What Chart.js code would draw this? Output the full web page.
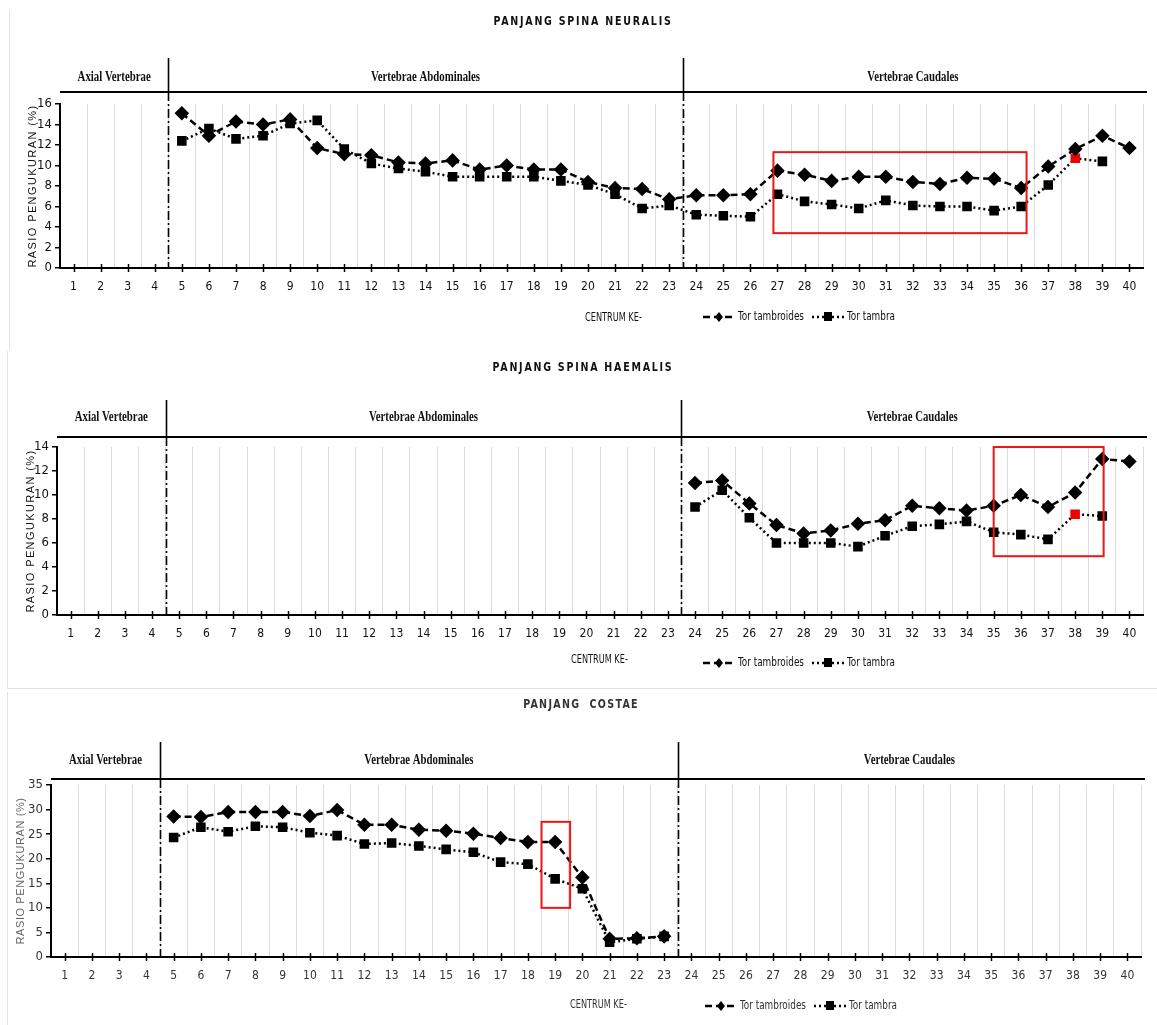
<!DOCTYPE html>
<html>
<head>
<meta charset="utf-8">
<script src="https://cdn.jsdelivr.net/npm/chart.js@4.4.0/dist/chart.umd.min.js"></script>
<style>
  body { margin: 0; background: #fff; }
  #page { position: relative; width: 1157px; height: 1025px; overflow: hidden; }
  .panel { position: absolute; left: 0; width: 1157px; }
  .edge { position: absolute; background: #e3e3e3; }
</style>
</head>
<body>
<div id="page">
  <div class="panel" style="top:0;height:345px"><canvas id="neural" width="1157" height="345"></canvas></div>
  <div class="panel" style="top:345px;height:343px"><canvas id="haemal" width="1157" height="343"></canvas></div>
  <div class="panel" style="top:688px;height:337px"><canvas id="costae" width="1157" height="337"></canvas></div>
  <div class="edge" style="left:9px;top:10px;width:1px;height:340px"></div>
  <div class="edge" style="left:7px;top:351px;width:1px;height:338px"></div>
  <div class="edge" style="left:7px;top:688px;width:1150px;height:1px"></div>
  <div class="edge" style="left:7px;top:692px;width:1px;height:333px"></div>
</div>
<script>
// centrum number along the spine
const centrum = ['1','2','3','4','5','6','7','8','9','10','11','12','13','14','15','16','17','18','19','20',
  '21','22','23','24','25','26','27','28','29','30','31','32','33','34','35','36','37','38','39','40'];

const sections = ['Axial Vertebrae', 'Vertebrae Abdominales', 'Vertebrae Caudales'];

// panjang spina neuralis (%)
const neuralTambroides = [null,null,null,null,15.1,12.9,14.3,14.0,14.5,11.7,11.1,11.0,10.3,10.2,10.5,9.6,10.0,9.6,9.6,8.4,
  7.8,7.7,6.7,7.1,7.1,7.2,9.5,9.1,8.5,8.9,8.9,8.4,8.2,8.8,8.7,7.8,9.9,11.6,12.9,11.7];
const neuralTambra = [null,null,null,null,12.4,13.6,12.6,12.9,14.1,14.4,11.6,10.2,9.7,9.4,8.9,8.9,8.9,8.9,8.5,8.1,
  7.2,5.8,6.1,5.2,5.1,5.0,7.2,6.5,6.2,5.8,6.6,6.1,6.0,6.0,5.6,6.0,8.1,10.7,10.4,null];

// panjang spina haemalis (%)
const haemalTambroides = [null,null,null,null,null,null,null,null,null,null,null,null,null,null,null,null,null,null,null,null,
  null,null,null,11.0,11.2,9.3,7.5,6.8,7.05,7.6,7.9,9.1,8.9,8.7,9.1,10.0,9.0,10.2,13.0,12.8];
const haemalTambra = [null,null,null,null,null,null,null,null,null,null,null,null,null,null,null,null,null,null,null,null,
  null,null,null,9.0,10.4,8.1,6.0,6.0,6.0,5.7,6.6,7.4,7.55,7.8,6.9,6.7,6.3,8.4,8.25,null];

// panjang costae (%)
const costaeTambroides = [null,null,null,null,28.6,28.5,29.5,29.5,29.5,28.7,29.9,26.9,26.9,25.9,25.7,25.1,24.2,23.4,23.4,16.2,
  3.7,3.8,4.2,null,null,null,null,null,null,null,null,null,null,null,null,null,null,null,null,null];
const costaeTambra = [null,null,null,null,24.3,26.4,25.5,26.6,26.4,25.3,24.7,23.0,23.2,22.6,21.9,21.3,19.3,18.9,15.9,13.9,
  3.0,3.7,4.2,null,null,null,null,null,null,null,null,null,null,null,null,null,null,null,null,null];

const yTicksNeural = [0, 16, 2];
const yTicksHaemal = [0, 14, 2];
const yTicksCostae = [0, 35, 5];

const NARROW = '"Liberation Sans Narrow", "DejaVu Sans Condensed", "Liberation Sans", sans-serif';

const markers = (data, redAt) => data.map((v, i) => i === redAt ? '#f00000' : '#000');

// text squeezed sideways, the picture uses a narrow face
function squeezed(ctx, text, x, y, sx, font, align) {
  ctx.save();
  ctx.translate(x, y);
  ctx.scale(sx, 1);
  ctx.font = font;
  ctx.textAlign = align;
  ctx.fillText(text, 0, 0);
  ctx.restore();
}

// draws title, section header, dividers, red box, x tick marks, axis titles and legend
const deco = {
  id: 'deco',
  afterDraw(chart, args, o) {
    const ctx = chart.ctx, xs = chart.scales.x, ys = chart.scales.y, a = chart.chartArea;
    ctx.save();
    ctx.textBaseline = 'middle';

    // title
    ctx.fillStyle = o.ink;
    ctx.letterSpacing = o.titleSpacing + 'px';
    squeezed(ctx, o.title, o.titleX, o.titleY, 0.88, 'bold 12px ' + NARROW, 'center');
    ctx.letterSpacing = '0px';

    // header band
    ctx.strokeStyle = '#000';
    ctx.lineWidth = 2;
    ctx.beginPath();
    ctx.moveTo(a.left, o.headerLine);
    ctx.lineTo(a.right + 4, o.headerLine);
    ctx.stroke();

    const cuts = [-0.5, 3.5, 22.5, 39.5];
    ctx.fillStyle = '#111';
    sections.forEach((s, i) => {
      const cx = (xs.getPixelForValue(cuts[i]) + xs.getPixelForValue(cuts[i + 1])) / 2;
      squeezed(ctx, s, cx, o.headerText, 0.72, 'bold 15px "Liberation Serif", "DejaVu Serif", serif', 'center');
    });

    [3.5, 22.5].forEach(c => {
      const px = Math.round(xs.getPixelForValue(c)) + 0.5;
      ctx.lineWidth = 1.6;
      ctx.setLineDash([]);
      ctx.beginPath();
      ctx.moveTo(px, o.dividerTop);
      ctx.lineTo(px, o.headerLine);
      ctx.stroke();
      ctx.setLineDash([9, 3, 2, 3]);
      ctx.beginPath();
      ctx.moveTo(px, o.headerLine);
      ctx.lineTo(px, a.bottom);
      ctx.stroke();
    });
    ctx.setLineDash([]);

    // x tick marks at each centrum
    ctx.lineWidth = 1.5;
    ctx.strokeStyle = '#000';
    centrum.forEach((c, i) => {
      const px = Math.round(xs.getPixelForValue(i)) + 0.5;
      ctx.beginPath();
      ctx.moveTo(px, a.bottom - 4);
      ctx.lineTo(px, a.bottom + 4);
      ctx.stroke();
    });

    // red highlight box
    const b = o.box;
    ctx.strokeStyle = '#e81818';
    ctx.lineWidth = 2;
    const bx1 = xs.getPixelForValue(b[0] - 1), bx2 = xs.getPixelForValue(b[1] - 1);
    const by1 = ys.getPixelForValue(b[3]), by2 = ys.getPixelForValue(b[2]);
    ctx.strokeRect(bx1, by1, bx2 - bx1, by2 - by1);

    // y axis title
    ctx.save();
    ctx.translate(o.yTitleX, (a.top + a.bottom) / 2);
    ctx.rotate(-Math.PI / 2);
    ctx.font = '11px "Liberation Sans", Arial, sans-serif';
    ctx.textAlign = 'center';
    ctx.letterSpacing = o.yTitleSpacing + 'px';
    ctx.fillStyle = o.yTitleColor;
    ctx.fillText('RASIO PENGUKURAN (%)', 0, 0);
    ctx.restore();

    // x axis title
    ctx.fillStyle = o.ink;
    squeezed(ctx, 'CENTRUM KE-', o.xTitle[0], o.xTitle[1], 0.7, '13px ' + NARROW, 'left');

    // legend
    chart.data.datasets.forEach((d, i) => {
      const [lx, ly] = o.legend[i];
      ctx.strokeStyle = '#000';
      ctx.lineWidth = 2.5;
      ctx.setLineDash(d.borderDash);
      ctx.beginPath();
      ctx.moveTo(lx, ly);
      ctx.lineTo(lx + 32, ly);
      ctx.stroke();
      ctx.setLineDash([]);
      ctx.fillStyle = '#000';
      const mx = lx + 16;
      if (d.pointStyle === 'rectRot') {
        ctx.beginPath();
        ctx.moveTo(mx, ly - 5); ctx.lineTo(mx + 4, ly); ctx.lineTo(mx, ly + 5); ctx.lineTo(mx - 4, ly);
        ctx.closePath();
        ctx.fill();
      } else {
        ctx.fillRect(mx - 4, ly - 5, 8, 9);
      }
      ctx.fillStyle = o.ink;
      squeezed(ctx, d.label, lx + 35, ly, 0.76, '13px ' + NARROW, 'left');
    });

    ctx.restore();
  }
};

function spineChart(id, area, yTicks, tambroides, tambra, redAt, extra) {
  const el = document.getElementById(id);
  const W = el.width, H = el.height;
  const yW = 34, xH = 30;
  return new Chart(el, {
    type: 'line',
    data: {
      labels: centrum,
      datasets: [
        {
          label: 'Tor tambroides',
          data: tambroides,
          borderColor: '#000',
          borderWidth: 2.5,
          borderDash: [7, 4],
          pointStyle: 'rectRot',
          pointRadius: 5.5,
          pointBackgroundColor: '#000',
          pointBorderColor: '#000',
          tension: 0
        },
        {
          label: 'Tor tambra',
          data: tambra,
          borderColor: '#000',
          borderWidth: 2.5,
          borderDash: [2, 3],
          pointStyle: 'rect',
          pointRadius: 5,
          pointBackgroundColor: markers(tambra, redAt),
          pointBorderColor: markers(tambra, redAt),
          tension: 0
        }
      ]
    },
    options: {
      responsive: false,
      animation: false,
      layout: {
        padding: { left: area.left - yW, right: W - area.right, top: area.top, bottom: H - area.bottom - xH }
      },
      plugins: {
        legend: { display: false },
        tooltip: { enabled: false },
        deco: extra
      },
      scales: {
        x: {
          offset: true,
          afterFit: s => { s.height = xH; },
          grid: { offset: true, drawTicks: false, color: '#dcdcdc', lineWidth: 1 },
          border: { display: true, color: '#000', width: 2 },
          ticks: { autoSkip: false, maxRotation: 0, padding: 12, color: extra.ink, font: { family: NARROW, size: 12 } }
        },
        y: {
          min: yTicks[0],
          max: yTicks[1],
          afterFit: s => { s.width = yW; },
          grid: { drawOnChartArea: false, drawTicks: true, tickLength: 5, color: '#000', lineWidth: 1.5 },
          border: { display: true, color: '#000', width: 2 },
          ticks: { stepSize: yTicks[2], padding: 3, color: extra.ink, font: { family: NARROW, size: 13 } }
        }
      }
    },
    plugins: [deco]
  });
}

spineChart('neural', { left: 60, right: 1143, top: 104, bottom: 268 }, yTicksNeural, neuralTambroides, neuralTambra, 37, {
  ink: '#111', title: 'PANJANG SPINA NEURALIS', titleX: 583, titleY: 22, titleSpacing: 2,
  headerText: 77, headerLine: 92, dividerTop: 58,
  box: [26.85, 36.2, 3.4, 11.3],
  yTitleX: 33, yTitleSpacing: 1.4, yTitleColor: '#111',
  xTitle: [585, 318], legend: [[703, 317], [812, 317]]
});

spineChart('haemal', { left: 57, right: 1143, top: 102, bottom: 270 }, yTicksHaemal, haemalTambroides, haemalTambra, 37, {
  ink: '#111', title: 'PANJANG SPINA HAEMALIS', titleX: 583, titleY: 23, titleSpacing: 2,
  headerText: 72, headerLine: 92, dividerTop: 55,
  box: [35.0, 39.05, 4.9, 14.0],
  yTitleX: 31, yTitleSpacing: 1.4, yTitleColor: '#111',
  xTitle: [571, 315], legend: [[703, 318], [812, 318]]
});

spineChart('costae', { left: 51, right: 1141, top: 97, bottom: 269 }, yTicksCostae, costaeTambroides, costaeTambra, -1, {
  ink: '#333', title: 'PANJANG  COSTAE', titleX: 581, titleY: 17, titleSpacing: 1.5,
  headerText: 72, headerLine: 91, dividerTop: 54,
  box: [18.5, 19.55, 10.0, 27.5],
  yTitleX: 21, yTitleSpacing: 0.6, yTitleColor: '#666',
  xTitle: [570, 317], legend: [[705, 318], [814, 318]]
});
</script>
</body>
</html>
